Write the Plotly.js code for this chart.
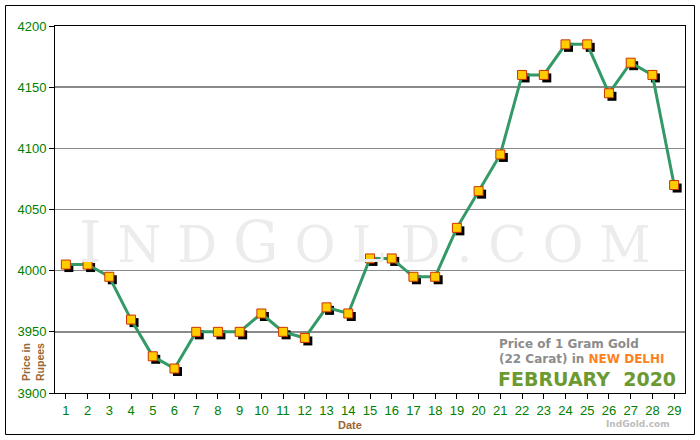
<!DOCTYPE html>
<html><head><meta charset="utf-8">
<script src="https://cdn.plot.ly/plotly-3.0.1.min.js"></script>
<style>html,body{margin:0;padding:0;background:#fff;}#chart{width:700px;height:440px;}</style>
</head><body><div id="chart"></div>
<script>
const dates = [1,2,3,4,5,6,7,8,9,10,11,12,13,14,15,16,17,18,19,20,21,22,23,24,25,26,27,28,29];
const prices = [4005,4005,3995,3960,3930,3920,3950,3950,3950,3965,3950,3945,3970,3965,4010,4010,3995,3995,4035,4065,4095,4160,4160,4185,4185,4145,4170,4160,4070];
const yTicks = [3900,3950,4000,4050,4100,4150,4200];

const W=700,H=440,ml=55,mr=15,mt=26,mb=47;
const pw=W-ml-mr, ph=H-mt-mb;
const xr=[0.5,29.5], yr=[3900,4200];
const dx=3*(xr[1]-xr[0])/pw, dy=3*(yr[1]-yr[0])/ph;
const tickFont={family:'"Liberation Sans Narrow", "Liberation Sans", Arial, sans-serif', size:13, color:'#008000'};

const traces=[
 {x:[],y:[],mode:'markers',hoverinfo:'skip'},
 {x:dates,y:prices,xaxis:'x2',yaxis:'y2',mode:'markers',hoverinfo:'skip',
  marker:{symbol:'square',size:9,color:'#000'}},
 {x:dates,y:prices,xaxis:'x3',yaxis:'y3',mode:'lines+markers',
  line:{color:'#339966',width:3},
  marker:{symbol:'square',size:9,color:'#FFCC00',line:{color:'#CC3300',width:1}}}
];
const px=(p)=>(p-ml)/pw, py=(p)=>(H-mb-p)/ph;
const wm='<span style="font-size:57px">I</span> N D <span style="font-size:57px">G</span> O L D . C O M';
const layout={
 width:W,height:H,margin:{l:ml,r:mr,t:mt,b:mb},
 paper_bgcolor:'#fff',plot_bgcolor:'#fff',showlegend:false,
 xaxis:{range:xr,tickvals:dates,ticks:'outside',ticklen:5,tickcolor:'#000',
  showgrid:false,zeroline:false,showline:true,linecolor:'#000',linewidth:1,mirror:true,
  tickfont:tickFont},
 yaxis:{range:yr,tickvals:yTicks,ticks:'outside',ticklen:5,tickcolor:'#000',
  showgrid:true,gridcolor:'#8a8a8a',gridwidth:1.5,zeroline:false,showline:true,
  linecolor:'#000',linewidth:1,mirror:true,tickfont:tickFont},
 xaxis2:{range:[xr[0]-dx,xr[1]-dx],overlaying:'x',visible:false},
 yaxis2:{range:[yr[0]+dy,yr[1]+dy],overlaying:'y',visible:false},
 xaxis3:{range:xr,overlaying:'x',visible:false},
 yaxis3:{range:yr,overlaying:'y',visible:false},
 annotations:[
  {xref:'paper',yref:'paper',x:px(364),y:py(242),xanchor:'center',yanchor:'middle',showarrow:false,
   text:wm,font:{family:'"DejaVu Serif","Liberation Serif",serif',size:50,color:'#ececec'}},
  {xref:'paper',yref:'paper',x:px(33),y:py(362),xanchor:'center',yanchor:'middle',showarrow:false,textangle:-90,
   text:'<b>Price in<br>Rupees</b>',font:{family:'"Liberation Sans",Arial,sans-serif',size:10.5,color:'#996633'}},
  {xref:'paper',yref:'paper',x:px(350),y:py(425),xanchor:'center',yanchor:'middle',showarrow:false,
   text:'<b>Date</b>',font:{family:'"Liberation Sans",Arial,sans-serif',size:11,color:'#996633'}},
  {xref:'paper',yref:'paper',x:px(497),y:py(344),xanchor:'left',yanchor:'middle',showarrow:false,
   text:'<b>Price of 1 Gram Gold</b>',font:{family:'"DejaVu Sans",Verdana,sans-serif',size:12,color:'#8c8c8c'}},
  {xref:'paper',yref:'paper',x:px(497),y:py(359),xanchor:'left',yanchor:'middle',showarrow:false,
   text:'<b>(22 Carat) in <span style="color:#FF7F1E">NEW DELHI</span></b>',font:{family:'"DejaVu Sans",Verdana,sans-serif',size:12,color:'#8c8c8c'}},
  {xref:'paper',yref:'paper',x:px(496),y:py(379),xanchor:'left',yanchor:'middle',showarrow:false,
   text:'<b>FEBRUARY  2020</b>',font:{family:'"DejaVu Sans",Verdana,sans-serif',size:19,color:'#6a9a30'}},
  {xref:'paper',yref:'paper',x:px(672),y:py(424),xanchor:'right',yanchor:'middle',showarrow:false,
   text:'<b>IndGold.com</b>',font:{family:'"DejaVu Sans",Verdana,sans-serif',size:9,color:'#bdbdbd'}}
 ],
 shapes:[
  {type:'rect',xref:'paper',yref:'paper',x0:px(5.5),x1:px(694.5),y0:py(434.5),y1:py(5.5),line:{color:'#000',width:1},layer:'above'}
 ]
};
Plotly.newPlot('chart',traces,layout,{displayModeBar:false,staticPlot:true});
</script></body></html>
